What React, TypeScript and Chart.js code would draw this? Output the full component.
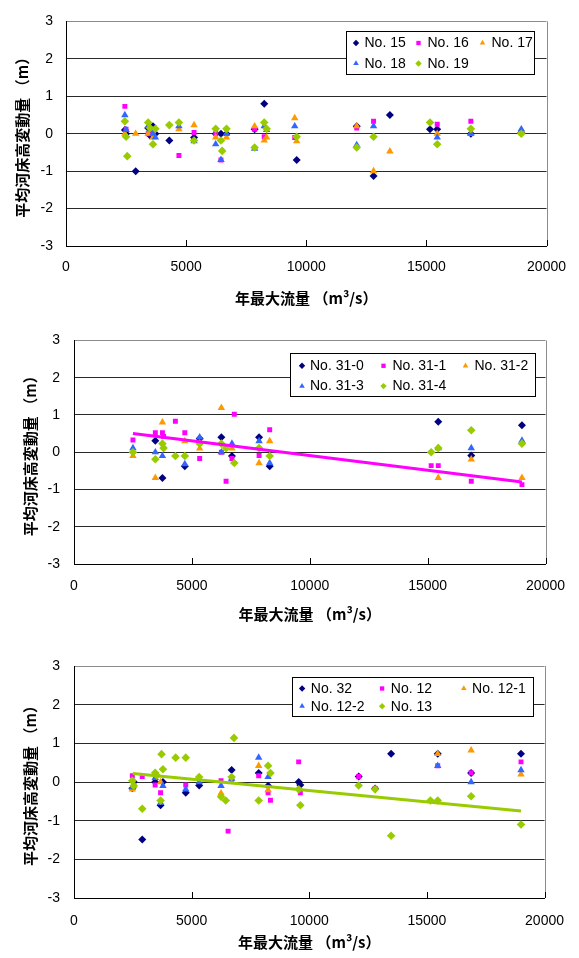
import React, { useEffect, useRef } from "react";
import { Chart, registerables } from "chart.js";

Chart.register(...registerables);

const NAVY = "#000080";
const MAGENTA = "#ff00ff";
const ORANGE = "#ff9900";
const BLUE = "#3366ff";
const GREEN = "#99cc00";

const Y_TITLE = "平均河床高変動量 （m）";
const X_TITLE = "年最大流量 （m³/s）";
const X_MIN = 0;
const X_MAX = 20000;
const X_STEP = 5000;
const Y_MIN = -3;
const Y_MAX = 3;
const Y_STEP = 1;

// ---- 上段: No. 15 〜 No. 19 ----
const flowsA = [2450, 2500, 2550, 2900, 3420, 3500, 3620, 3720, 4300, 4700, 5330, 6230, 6450, 6500, 6680, 7850, 8250, 8350, 9520, 9600, 12100, 12800, 13480, 15150, 15450, 16850, 18950];
const no15 = [0.1, 0.0, null, -1.0, 0.15, -0.05, 0.2, 0.0, -0.18, null, -0.1, 0.0, 0.0, null, 0.0, 0.12, 0.8, null, null, -0.7, 0.2, -1.13, 0.5, 0.12, 0.12, 0.0, 0.03];
const no16 = [0.73, 0.12, null, null, 0.0, null, 0.05, null, null, -0.58, 0.03, 0.0, -0.7, null, null, 0.12, -0.08, null, -0.1, null, 0.15, 0.33, null, null, 0.25, 0.33, 0.03];
const no17 = [0.0, null, null, 0.0, 0.0, null, -0.1, null, null, 0.12, 0.23, -0.1, null, null, -0.1, 0.2, -0.18, -0.1, 0.42, -0.2, 0.2, -1.0, -0.47, null, 0.0, 0.0, 0.07];
const no18 = [0.5, 0.1, null, null, 0.2, 0.12, 0.0, -0.1, null, 0.2, -0.2, -0.28, -0.7, null, 0.0, -0.4, 0.2, 0.1, 0.2, null, -0.3, 0.2, null, null, -0.1, 0.0, 0.12];
const no19 = [0.33, -0.08, -0.6, null, 0.3, 0.15, -0.28, 0.13, 0.23, 0.3, -0.18, 0.13, -0.18, -0.46, 0.13, -0.37, 0.3, 0.13, null, -0.08, -0.37, -0.08, null, 0.3, -0.28, 0.13, 0.0];

// ---- 中段: No. 31-0 〜 No. 31-4 ----
const flowsB = [2500, 3450, 3750, 3800, 4300, 4700, 5330, 6250, 6450, 6700, 6800, 7850, 8300, 15150, 15450, 16850, 19000];
const no310 = [null, 0.31, -0.69, null, null, -0.38, 0.37, 0.4, null, -0.1, null, 0.4, -0.38, null, 0.82, -0.09, 0.72];
const no311 = [0.33, 0.52, 0.52, 0.42, 0.83, 0.52, -0.17, 0.0, -0.78, -0.17, 1.02, -0.09, 0.6, -0.36, -0.36, -0.78, -0.87];
const no312 = [-0.1, -0.69, 0.8, null, null, 0.3, 0.1, 1.19, null, 0.1, null, -0.29, 0.3, null, -0.69, -0.19, -0.69];
const no313 = [0.11, 0.0, -0.1, null, null, -0.32, 0.4, 0.0, null, 0.23, null, 0.3, -0.29, null, 0.11, 0.11, 0.31];
const no314 = [0.0, -0.19, 0.23, 0.11, -0.1, -0.1, 0.23, 0.23, 0.11, null, -0.29, 0.11, -0.1, 0.0, 0.11, 0.59, 0.23];
const trendBX = [2500, 19000];
const trendBY = [0.5, -0.8];

// ---- 下段: No. 32, No. 12, No. 12-1, No. 12-2, No. 13 ----
const flowsC = [2480, 2540, 2900, 3450, 3520, 3680, 3720, 3780, 4320, 4750, 5320, 6250, 6450, 6550, 6700, 6800, 7850, 8250, 8350, 9550, 9620, 12100, 12800, 13480, 15150, 15460, 16880, 19000];
const no32 = [-0.16, 0.0, -1.49, 0.0, null, -0.6, null, 0.0, null, -0.28, -0.09, null, null, null, 0.31, null, 0.23, -0.1, null, 0.0, -0.08, 0.14, -0.17, 0.73, null, 0.73, 0.23, 0.73];
const no12 = [0.16, -0.08, 0.14, -0.08, null, -0.28, null, null, null, -0.08, null, 0.03, null, -1.27, 0.07, null, 0.16, -0.28, -0.47, 0.52, -0.28, 0.14, -0.17, null, null, 0.42, 0.24, 0.52];
const no121 = [-0.19, -0.1, null, null, null, 0.0, null, null, null, null, null, -0.29, null, null, null, null, 0.42, -0.21, null, null, null, null, null, null, null, 0.73, 0.82, 0.2];
const no122 = [-0.14, null, null, 0.11, null, -0.54, null, -0.1, null, -0.19, 0.0, -0.1, null, null, 0.09, null, 0.63, 0.13, null, null, null, null, null, null, null, 0.42, 0.0, 0.31];
const no13 = [0.03, -0.1, -0.69, 0.24, 0.17, -0.48, 0.72, 0.33, 0.63, 0.63, 0.13, -0.38, -0.48, null, 0.13, 1.14, -0.48, 0.42, 0.23, -0.19, -0.6, -0.09, -0.19, -1.39, -0.48, -0.48, -0.37, -1.1];
const trendCX = [2500, 19000];
const trendCY = [0.22, -0.75];

type Shape = "rectRot" | "rect" | "triangle";
type Series = { label: string; values: (number | null)[]; color: string; shape: Shape; radius: number };

const diamond = (label: string, values: (number | null)[], color: string, radius = 4): Series => ({ label, values, color, shape: "rectRot", radius });
const square = (label: string, values: (number | null)[], color: string): Series => ({ label, values, color, shape: "rect", radius: 3.5 });
const tri = (label: string, values: (number | null)[], color: string): Series => ({ label, values, color, shape: "triangle", radius: 4.3 });

const seriesA: Series[] = [
  diamond("No. 15", no15, NAVY),
  square("No. 16", no16, MAGENTA),
  tri("No. 17", no17, ORANGE),
  tri("No. 18", no18, BLUE),
  diamond("No. 19", no19, GREEN, 4.3),
];
const seriesB: Series[] = [
  diamond("No. 31-0", no310, NAVY),
  square("No. 31-1", no311, MAGENTA),
  tri("No. 31-2", no312, ORANGE),
  tri("No. 31-3", no313, BLUE),
  diamond("No. 31-4", no314, GREEN, 4.3),
];
const seriesC: Series[] = [
  diamond("No. 32", no32, NAVY),
  square("No. 12", no12, MAGENTA),
  tri("No. 12-1", no121, ORANGE),
  tri("No. 12-2", no122, BLUE),
  diamond("No. 13", no13, GREEN, 4.3),
];

const W = 579;
const TICK_FONT = { family: '"Liberation Sans", Arial, sans-serif', size: 14 };
const TITLE_FONT = { family: '"Noto Sans CJK JP", "Noto Sans CJK SC", sans-serif', size: 15, weight: "bold" };

type LegendLayout = { width: number; height: number; right: number; top: number; cols: [number, number][]; rows: number[] };
type Area = { left: number; right: number; top: number; bottom: number };

type PanelProps = {
  canvasTop: number;
  height: number;
  area: Area;
  flows: number[];
  series: Series[];
  trendX?: number[];
  trendY?: number[];
  trendColor?: string;
  legend: LegendLayout;
  yTitlePad: number;
  yTickPad: number;
  xTickPad: number;
  xTitlePad: number;
};

function drawMarker(ctx: CanvasRenderingContext2D, shape: Shape, x: number, y: number, r: number, color: string) {
  ctx.fillStyle = color;
  ctx.beginPath();
  if (shape === "rectRot") {
    ctx.moveTo(x, y - r);
    ctx.lineTo(x + r, y);
    ctx.lineTo(x, y + r);
    ctx.lineTo(x - r, y);
  } else if (shape === "rect") {
    const h = r * 0.72;
    ctx.rect(x - h, y - h, 2 * h, 2 * h);
  } else {
    ctx.moveTo(x, y - r);
    ctx.lineTo(x + r * 0.866, y + r * 0.5);
    ctx.lineTo(x - r * 0.866, y + r * 0.5);
  }
  ctx.closePath();
  ctx.fill();
}

function Panel(p: PanelProps) {
  const ref = useRef<HTMLCanvasElement>(null);

  useEffect(() => {
    const canvas = ref.current;
    if (!canvas) return;
    const { area } = p;

    const datasets: any[] = p.series.map((s, i) => ({
      type: "scatter",
      label: s.label,
      data: p.flows
        .map((x, k) => ({ x, y: s.values[k] }))
        .filter((d) => d.y !== null && d.y !== undefined),
      pointStyle: s.shape,
      pointRadius: s.radius,
      pointBackgroundColor: s.color,
      pointBorderColor: s.color,
      pointBorderWidth: 0,
      backgroundColor: s.color,
      borderColor: s.color,
      showLine: false,
      order: 10 - i,
    }));

    if (p.trendX && p.trendY) {
      datasets.push({
        type: "scatter",
        label: "trend",
        data: p.trendX.map((x, k) => ({ x, y: p.trendY![k] })),
        showLine: true,
        borderColor: p.trendColor,
        borderWidth: 3,
        pointRadius: 0,
        order: 0,
      });
    }

    // plot frame: grey right edge, inward tick marks on the x axis
    const framePlugin = {
      id: "frameEdge",
      beforeDatasetsDraw(chart: any) {
        const { ctx, chartArea } = chart;
        const xs = chart.scales.x;
        ctx.save();
        ctx.lineWidth = 1;
        ctx.strokeStyle = "#8c8c8c";
        ctx.beginPath();
        const rx = Math.round(chartArea.right) + 0.5;
        ctx.moveTo(rx, chartArea.top);
        ctx.lineTo(rx, chartArea.bottom);
        ctx.stroke();
        ctx.strokeStyle = "#000";
        ctx.beginPath();
        xs.ticks.forEach((t: any) => {
          if (t.value === X_MIN) return;
          const px = Math.round(xs.getPixelForValue(t.value)) + 0.5;
          ctx.moveTo(px, chartArea.bottom);
          ctx.lineTo(px, chartArea.bottom - 6);
        });
        ctx.stroke();
        ctx.restore();
      },
    };

    // boxed legend with three columns
    const legendPlugin = {
      id: "boxLegend",
      afterDraw(chart: any) {
        const { ctx, chartArea } = chart;
        const L = p.legend;
        const bx = Math.round(chartArea.right - L.right - L.width) + 0.5;
        const by = Math.round(chartArea.top + L.top) + 0.5;
        ctx.save();
        ctx.fillStyle = "#fff";
        ctx.fillRect(bx, by, L.width, L.height);
        ctx.strokeStyle = "#000";
        ctx.lineWidth = 1;
        ctx.strokeRect(bx, by, L.width, L.height);
        ctx.font = '14px "Liberation Sans", Arial, sans-serif';
        ctx.textBaseline = "middle";
        ctx.textAlign = "left";
        p.series.forEach((s, i) => {
          const [mx, tx] = L.cols[i % 3];
          const ry = by + L.rows[Math.floor(i / 3)];
          drawMarker(ctx, s.shape, bx + mx, ry, s.shape === "rect" ? 3 : 3.2, s.color);
          ctx.fillStyle = "#000";
          ctx.fillText(s.label, bx + tx, ry + 0.5);
        });
        ctx.restore();
      },
    };

    const chart = new Chart(canvas, {
      type: "scatter",
      data: { datasets },
      options: {
        responsive: false,
        animation: false,
        devicePixelRatio: 1,
        events: [],
        layout: { padding: { left: 0, right: W - area.right, top: area.top, bottom: 0 } },
        plugins: { legend: { display: false }, tooltip: { enabled: false } },
        scales: {
          x: {
            type: "linear",
            position: "bottom",
            min: X_MIN,
            max: X_MAX,
            ticks: {
              stepSize: X_STEP,
              padding: p.xTickPad,
              font: TICK_FONT,
              color: "#000",
              maxRotation: 0,
              callback: (v: any) => String(v),
            },
            grid: { display: false, drawTicks: false },
            border: { display: true, color: "#000", width: 1 },
            title: {
              display: true,
              text: X_TITLE,
              font: TITLE_FONT,
              color: "#000",
              padding: { top: 0, bottom: p.xTitlePad },
            },
            afterFit: (s: any) => {
              s.height = p.height - area.bottom;
            },
          },
          y: {
            type: "linear",
            position: "left",
            min: Y_MIN,
            max: Y_MAX,
            ticks: {
              stepSize: Y_STEP,
              padding: p.yTickPad,
              font: TICK_FONT,
              color: "#000",
              callback: (v: any) => String(v),
            },
            grid: {
              drawTicks: false,
              lineWidth: 1,
              color: (c: any) => (c.tick && c.tick.value === Y_MAX ? "#8c8c8c" : "#2a2a2a"),
            },
            border: { display: true, color: "#000", width: 1 },
            title: {
              display: true,
              text: Y_TITLE,
              font: TITLE_FONT,
              color: "#000",
              padding: { top: p.yTitlePad, bottom: 0 },
            },
            afterFit: (s: any) => {
              s.width = area.left;
            },
          },
        },
      } as any,
      plugins: [framePlugin, legendPlugin],
    });

    return () => chart.destroy();
  }, []);

  return (
    <canvas
      ref={ref}
      width={W}
      height={p.height}
      style={{ position: "absolute", left: 0, top: p.canvasTop, width: W, height: p.height }}
    />
  );
}

export default function App() {
  return (
    <div style={{ position: "absolute", left: 0, top: 0, width: W, height: 958, background: "#fff" }}>
      <Panel
        canvasTop={0}
        height={310}
        area={{ left: 66, right: 550, top: 13, bottom: 246 }}
        flows={flowsA}
        series={seriesA}
        legend={{ width: 188, height: 43, right: 13, top: 10, cols: [[9.5, 18], [72, 81], [136, 145]], rows: [11.5, 32] }}
        yTitlePad={13}
        yTickPad={13}
        xTickPad={13}
        xTitlePad={3}
      />
      <Panel
        canvasTop={318}
        height={310}
        area={{ left: 74, right: 551, top: 16, bottom: 246 }}
        flows={flowsB}
        series={seriesB}
        trendX={trendBX}
        trendY={trendBY}
        trendColor={MAGENTA}
        legend={{ width: 245, height: 43, right: 11, top: 13, cols: [[11.5, 19.5], [93, 102], [175, 184]], rows: [12.3, 32.6] }}
        yTitlePad={21}
        yTickPad={14}
        xTickPad={14}
        xTitlePad={5}
      />
      <Panel
        canvasTop={640}
        height={318}
        area={{ left: 74, right: 557, top: 26, bottom: 258 }}
        flows={flowsC}
        series={seriesC}
        trendX={trendCX}
        trendY={trendCY}
        trendColor={GREEN}
        legend={{ width: 241, height: 39, right: 12, top: 11, cols: [[9.6, 18.3], [89.6, 98.3], [171.3, 179.6]], rows: [11, 28.7] }}
        yTitlePad={21}
        yTickPad={14}
        xTickPad={15}
        xTitlePad={7}
      />
    </div>
  );
}
